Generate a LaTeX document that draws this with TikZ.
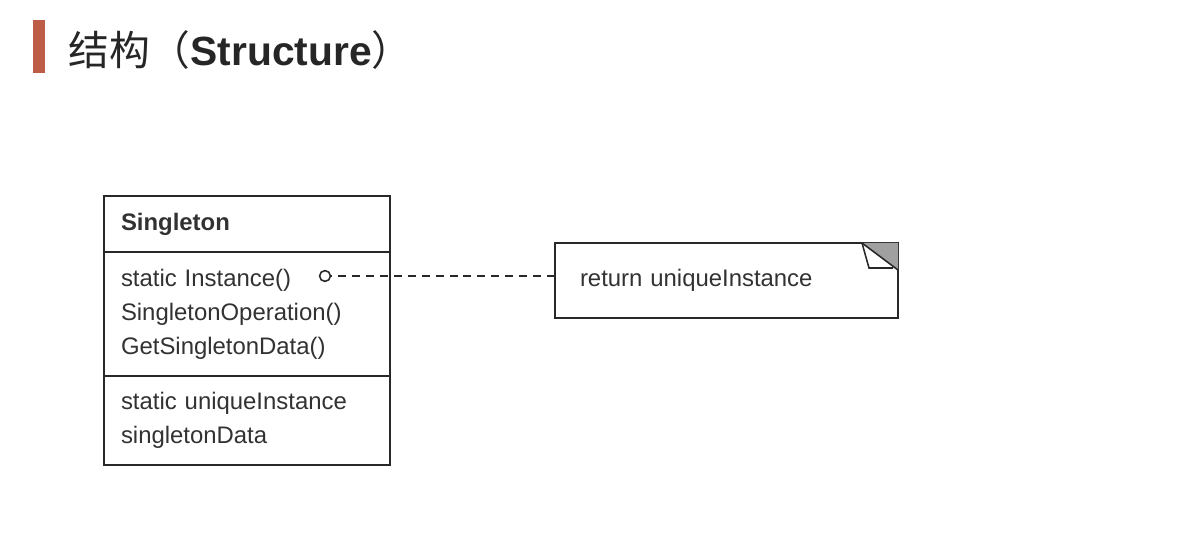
\documentclass[tikz,border=0pt]{standalone}
\usepackage{fontspec}
\setmainfont{Liberation Sans}
\newfontfamily\cjkfont{Noto Sans CJK SC}
\usetikzlibrary{positioning,calc}
\definecolor{umlred}{RGB}{189, 93, 71}
\definecolor{umlline}{RGB}{40, 40, 40}
\definecolor{umltext}{RGB}{50, 50, 50}
\definecolor{umlgray}{RGB}{160, 160, 160}

\begin{document}
\begin{tikzpicture}[
		% Node styles
		classpart/.style={draw=umlline, line width=1.1pt, minimum width=7.15cm, text width=6.3cm,
				inner xsep=0.425cm, inner ysep=0pt, outer sep=0pt, align=left, text=umltext,
				font=\fontsize{17}{24.1}\selectfont},
		notebox/.style={draw=umlline, line width=1.1pt, minimum width=8.575cm, minimum height=1.875cm,
				text width=7.325cm, inner xsep=0.625cm, outer sep=0pt, align=left, text=umltext,
				font=\fontsize{17}{24.1}\selectfont},
		hook/.style={circle, draw=umlline, line width=1.1pt, fill=white, minimum size=0.27cm, inner sep=0pt},
		connector/.style={draw=umlline, line width=1.1pt, dash pattern=on 5.7pt off 4.2pt},
		title/.style={font=\fontsize{29}{34}\selectfont, text=black!85}
	]

	\useasboundingbox (0,0) rectangle (29.575,13.375);

	% Title
	\fill[umlred] (0.825,11.55) rectangle (1.125,12.875);
	\node[title, anchor=west, inner sep=0pt] (title) at (1.7,12.125)
		{{\cjkfont 结构（}\textbf{Structure}{\cjkfont ）}};

	% Singleton class
	\node[classpart, anchor=north west, minimum height=1.4cm, font=\fontsize{17}{24.1}\selectfont\bfseries]
		(singleton_name) at (2.6,8.475) {Singleton};
	\node[classpart, below=0pt of singleton_name, minimum height=3.1cm]
		(singleton_ops) {static Instance()\\SingletonOperation()\\GetSingletonData()};
	\node[classpart, below=0pt of singleton_ops, minimum height=2.225cm]
		(singleton_attrs) {static uniqueInstance\\singletonData};

	% Note
	\node[notebox, anchor=north west] (note) at (13.875,7.3) {return uniqueInstance};
	\fill[umlgray] ($(note.north east)+(-0.9,0)$) -- (note.north east) -- ++(0,-0.675) -- cycle;
	\draw[umlline, line width=1.1pt, fill=white] ($(note.north east)+(-0.9,0)$) -- ++(0.175,-0.625) -- ++(0.6,0);
	\draw[umlline, line width=1.1pt] ($(note.north east)+(-0.9,0)$) -- ++(0.9,-0.675);

	% Connection
	\node[hook] (instance_hook) at (8.125,6.475) {};
	\draw[connector] (instance_hook -| note.west) -- (instance_hook.east);

\end{tikzpicture}
\end{document}
